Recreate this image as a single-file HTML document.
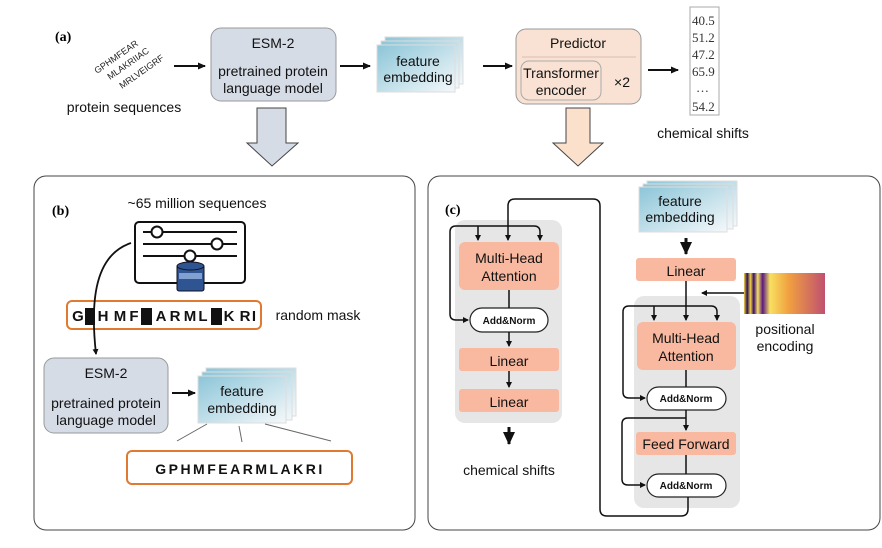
<!DOCTYPE html>
<html><head><meta charset="utf-8"><style>
html,body{margin:0;padding:0;background:#fff;}
svg{display:block;font-family:"Liberation Sans",sans-serif;}
.t{font-size:14px;fill:#111;text-anchor:middle;}
.s{font-size:10px;font-weight:bold;fill:#111;text-anchor:middle;}
.n{font-family:"Liberation Serif",serif;font-size:13px;fill:#333;}
.m{font-size:15px;font-weight:bold;fill:#111;text-anchor:middle;}
</style></head><body>
<svg width="882" height="548" viewBox="0 0 882 548" xmlns="http://www.w3.org/2000/svg">
<defs>
<marker id="ah" markerWidth="8" markerHeight="8" refX="7" refY="4" orient="auto" markerUnits="userSpaceOnUse"><path d="M0,0.5 L8,4 L0,7.5 z" fill="#111"/></marker>
<marker id="as" markerWidth="6" markerHeight="6" refX="5" refY="3" orient="auto" markerUnits="userSpaceOnUse"><path d="M0,0 L6,3 L0,6 z" fill="#111"/></marker>
<marker id="ab" markerWidth="14" markerHeight="14" refX="12" refY="7" orient="auto" markerUnits="userSpaceOnUse"><path d="M0,1 L13,7 L0,13 z" fill="#111"/></marker>
<linearGradient id="fe" x1="0" y1="0" x2="1" y2="1"><stop offset="0" stop-color="#8cc5d8"/><stop offset="1" stop-color="#f4f8fa"/></linearGradient>
<linearGradient id="pe" x1="0" y1="0" x2="1" y2="0"><stop offset="0" stop-color="#f0d040"/><stop offset="0.04" stop-color="#2a1060"/><stop offset="0.08" stop-color="#f0d040"/><stop offset="0.12" stop-color="#3a1070"/><stop offset="0.17" stop-color="#f8e060"/><stop offset="0.23" stop-color="#5a1a80"/><stop offset="0.32" stop-color="#f8e060"/><stop offset="0.55" stop-color="#f0a040"/><stop offset="1" stop-color="#c05070"/></linearGradient>
<linearGradient id="hl" x1="0" x2="1"><stop offset="0" stop-color="#888" stop-opacity="0.2"/><stop offset="0.5" stop-color="#333"/><stop offset="1" stop-color="#888" stop-opacity="0.2"/></linearGradient>
</defs>

<!-- (a) -->
<text x="55" y="41" font-family="Liberation Serif,serif" font-weight="bold" font-size="14">(a)</text>
<g font-size="9" fill="#222">
<text transform="translate(97,74) rotate(-35)">GPHMFEAR</text>
<text transform="translate(110,80) rotate(-35)">MLAKRIIAC</text>
<text transform="translate(122,89) rotate(-35)">MRLVEIGRF</text></g>
<text x="124" y="112" class="t">protein sequences</text>
<line x1="174" y1="66" x2="205" y2="66" stroke="#111" stroke-width="2" marker-end="url(#ah)"/>
<rect x="211" y="28" width="125" height="73" rx="10" fill="#d5dce6" stroke="#999"/>
<text x="273" y="48" class="t">ESM-2</text>
<line x1="218" y1="57" x2="330" y2="57" stroke="url(#hl)" stroke-width="1.5"/>
<text x="273" y="76" class="t">pretrained protein</text><text x="273" y="93" class="t">language model</text>
<line x1="340" y1="66" x2="370" y2="66" stroke="#111" stroke-width="2" marker-end="url(#ah)"/>
<rect x="385" y="37" width="78" height="47" fill="url(#fe)" stroke="#ddd"/>
<rect x="381" y="41" width="78" height="47" fill="url(#fe)" stroke="#ddd"/>
<rect x="377" y="45" width="78" height="47" fill="url(#fe)" stroke="#ddd"/>
<text x="418" y="66" class="t">feature</text><text x="418" y="82" class="t">embedding</text>
<line x1="483" y1="66" x2="512" y2="66" stroke="#111" stroke-width="2" marker-end="url(#ah)"/>
<rect x="516" y="29" width="125" height="75" rx="10" fill="#f9e2d3" stroke="#999"/>
<text x="578" y="48" class="t">Predictor</text>
<line x1="522" y1="57" x2="636" y2="57" stroke="#d8c0b0"/>
<rect x="521" y="61" width="80" height="39" rx="8" fill="#f9e2d3" stroke="#aaa"/>
<text x="561" y="78" class="t">Transformer</text><text x="561" y="95" class="t">encoder</text>
<text x="622" y="87" class="t">×2</text>
<line x1="648" y1="70" x2="678" y2="70" stroke="#111" stroke-width="2" marker-end="url(#ah)"/>
<rect x="690" y="7" width="29" height="108" fill="#fff" stroke="#aaa"/>
<g class="n"><text x="692" y="25">40.5</text><text x="692" y="42">51.2</text><text x="692" y="59">47.2</text><text x="692" y="76">65.9</text><text x="696" y="92">…</text><text x="692" y="111">54.2</text></g>
<text x="703" y="138" class="t">chemical shifts</text>
<path d="M257,108 H286 V143 H298 L272,166 L247,143 H257 Z" fill="#d5dce6" stroke="#444"/>
<path d="M566,108 H590 V143 H603 L578,166 L553,143 H566 Z" fill="#fbe0cc" stroke="#444"/>

<!-- (b) -->
<rect x="34" y="176" width="381" height="354" rx="12" fill="#fff" stroke="#444"/>
<text x="52" y="215" font-family="Liberation Serif,serif" font-weight="bold" font-size="14">(b)</text>
<text x="197" y="208" class="t">~65 million sequences</text>
<rect x="135" y="222" width="110" height="61" rx="4" fill="#fff" stroke="#111" stroke-width="2"/>
<g stroke="#111" stroke-width="2"><line x1="143" y1="232" x2="237" y2="232"/><line x1="143" y1="244" x2="237" y2="244"/><line x1="143" y1="256" x2="237" y2="256"/></g>
<g fill="#fff" stroke="#111" stroke-width="2"><circle cx="157" cy="232" r="5.5"/><circle cx="217" cy="244" r="5.5"/><circle cx="190" cy="256" r="5.5"/></g>
<rect x="177" y="265" width="27" height="26" fill="#2e5591" stroke="#112" rx="2"/>
<ellipse cx="190.5" cy="266" rx="13.5" ry="4" fill="#2e5591" stroke="#112"/>
<rect x="179" y="273" width="23" height="6" fill="#7fa0d0"/>
<rect x="67" y="301" width="194" height="28" rx="5" fill="#fff" stroke="#e07a30" stroke-width="2"/>
<g class="m"><text x="78" y="321">G</text><text x="103" y="321">H</text><text x="120" y="321">M</text><text x="134" y="321">F</text><text x="161" y="321">A</text><text x="175" y="321">R</text><text x="190" y="321">M</text><text x="203" y="321">L</text><text x="229" y="321">K</text><text x="245" y="321">R</text><text x="254" y="321">I</text></g>
<rect x="85" y="308" width="10" height="17" fill="#111"/><rect x="141" y="308" width="11" height="17" fill="#111"/><rect x="211" y="308" width="11" height="17" fill="#111"/>
<text x="318" y="320" class="t">random mask</text>
<path d="M131,243 C95,255 90,300 96,354" fill="none" stroke="#111" stroke-width="1.8" marker-end="url(#as)"/>
<rect x="44" y="358" width="124" height="75" rx="10" fill="#d5dce6" stroke="#999"/>
<text x="106" y="378" class="t">ESM-2</text>
<line x1="50" y1="387" x2="162" y2="387" stroke="url(#hl)" stroke-width="1.5"/>
<text x="106" y="408" class="t">pretrained protein</text><text x="106" y="425" class="t">language model</text>
<line x1="172" y1="393" x2="195" y2="393" stroke="#111" stroke-width="2" marker-end="url(#ah)"/>
<rect x="206" y="368" width="90" height="48" fill="url(#fe)" stroke="#ddd"/>
<rect x="202" y="372" width="90" height="48" fill="url(#fe)" stroke="#ddd"/>
<rect x="198" y="376" width="88" height="47" fill="url(#fe)" stroke="#ddd"/>
<text x="242" y="396" class="t">feature</text><text x="242" y="413" class="t">embedding</text>
<g stroke="#666"><line x1="207" y1="424" x2="177" y2="441"/><line x1="239" y1="426" x2="242" y2="442"/><line x1="265" y1="424" x2="331" y2="441"/></g>
<rect x="127" y="451" width="225" height="33" rx="5" fill="#fff" stroke="#e07a30" stroke-width="2"/>
<text x="240" y="474" class="t" font-weight="bold" font-size="16" letter-spacing="2.5">GPHMFEARMLAKRI</text>

<!-- (c) -->
<rect x="428" y="176" width="452" height="354" rx="12" fill="#fff" stroke="#444"/>
<text x="445" y="214" font-family="Liberation Serif,serif" font-weight="bold" font-size="14">(c)</text>
<rect x="455" y="220" width="107" height="203" rx="10" fill="#e6e6e6"/>
<rect x="634" y="296" width="106" height="212" rx="10" fill="#e6e6e6"/>
<g fill="#f8b9a0">
<rect x="459" y="242" width="100" height="48" rx="6"/>
<rect x="459" y="348" width="100" height="23" rx="3"/>
<rect x="459" y="389" width="100" height="23" rx="3"/>
<rect x="636" y="258" width="100" height="23" rx="3"/>
<rect x="637" y="322" width="99" height="48" rx="6"/>
<rect x="636" y="432" width="100" height="23" rx="3"/>
</g>
<text x="509" y="263" class="t" font-size="15">Multi-Head</text><text x="509" y="281" class="t" font-size="15">Attention</text>
<text x="509" y="366" class="t" font-size="15">Linear</text>
<text x="509" y="407" class="t" font-size="15">Linear</text>
<text x="686" y="276" class="t" font-size="15">Linear</text>
<text x="686" y="343" class="t" font-size="15">Multi-Head</text><text x="686" y="361" class="t" font-size="15">Attention</text>
<text x="686" y="449" class="t" font-size="13">Feed Forward</text>
<g fill="#fff" stroke="#222" stroke-width="1.2">
<rect x="470" y="308" width="78" height="24" rx="12"/>
<rect x="647" y="387" width="79" height="23" rx="11.5"/>
<rect x="647" y="474" width="79" height="23" rx="11.5"/>
</g>
<text x="509" y="324" class="s">Add&amp;Norm</text>
<text x="686" y="402" class="s">Add&amp;Norm</text>
<text x="686" y="489" class="s">Add&amp;Norm</text>
<g fill="none" stroke="#111" stroke-width="1.5">
<path d="M456,320 Q450,320 450,314 V232 Q450,226 456,226 H534 Q540,226 540,232 V240" marker-end="url(#as)"/>
<path d="M456,320 H468" marker-end="url(#as)"/>
<path d="M478,226 V240" marker-end="url(#as)"/>
<path d="M688,497 V509 Q688,516 681,516 H607 Q600,516 600,509 V206 Q600,199 593,199 H515 Q508,199 508,206 V240" marker-end="url(#as)"/>
<line x1="509" y1="290" x2="509" y2="308"/>
<line x1="509" y1="332" x2="509" y2="346" marker-end="url(#as)"/>
<line x1="509" y1="371" x2="509" y2="387" marker-end="url(#as)"/>
<line x1="686" y1="281" x2="686" y2="320" marker-end="url(#as)"/>
<path d="M629,398 Q623,398 623,392 V312 Q623,306 629,306 H711 Q717,306 717,312 V320" marker-end="url(#as)"/>
<path d="M654,306 V320" marker-end="url(#as)"/>
<path d="M629,398 H645" marker-end="url(#as)"/>
<line x1="686" y1="370" x2="686" y2="387"/>
<line x1="686" y1="410" x2="686" y2="430" marker-end="url(#as)"/>
<path d="M686,418 H628 Q622,418 622,424 V479 Q622,485 628,485 H645" marker-end="url(#as)"/>
<line x1="686" y1="455" x2="686" y2="474"/>
<line x1="744" y1="293" x2="702" y2="293" marker-end="url(#as)"/>
</g>
<line x1="509" y1="427" x2="509" y2="444" stroke="#111" stroke-width="3" marker-end="url(#ab)"/>
<text x="509" y="475" class="t">chemical shifts</text>
<line x1="686" y1="238" x2="686" y2="254" stroke="#111" stroke-width="3" marker-end="url(#ab)"/>
<rect x="647" y="181" width="90" height="45" fill="url(#fe)" stroke="#ddd"/>
<rect x="643" y="184" width="90" height="45" fill="url(#fe)" stroke="#ddd"/>
<rect x="639" y="187" width="88" height="45" fill="url(#fe)" stroke="#ddd"/>
<text x="680" y="206" class="t">feature</text><text x="680" y="222" class="t">embedding</text>
<rect x="744" y="273" width="81" height="41" fill="url(#pe)"/>
<text x="785" y="334" class="t">positional</text><text x="785" y="351" class="t">encoding</text>
</svg>
</body></html>
